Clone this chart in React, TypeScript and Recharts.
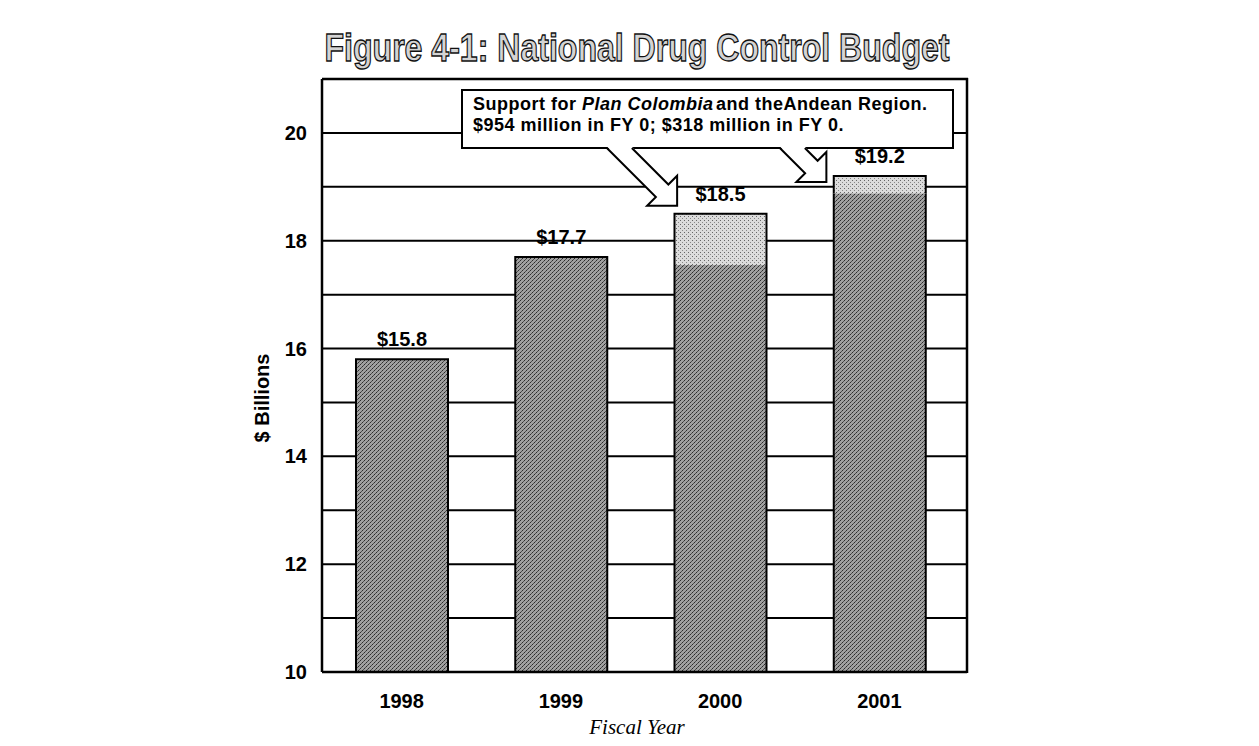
import { BarChart, Bar, XAxis, YAxis, CartesianGrid, LabelList, Customized } from 'recharts';

// fiscal years and budget ($ billions)
const years = ['1998', '1999', '2000', '2001'];
const totals = [15.8, 17.7, 18.5, 19.2];
const baseBudget = [15.8, 17.7, 17.55, 18.88];
const andeanSupport = [0, 0, 0.95, 0.32];
const yTicks = [10, 11, 12, 13, 14, 15, 16, 17, 18, 19, 20, 21];
const yLabels = [10, 12, 14, 16, 18, 20];

const data = years.map((year, i) => ({
  year,
  base: baseBudget[i],
  andean: andeanSupport[i],
  total: totals[i],
}));

const FONT = "'Liberation Sans', Arial, sans-serif";
const W = 1243;
const H = 730;
const M = { top: 71, right: 284, bottom: 16, left: 254 };
const Y_W = 60;
const X_H = 50;
const PL = M.left + Y_W;
const PR = W - M.right;
const PT = M.top;
const PB = H - M.bottom - X_H;
const X_PAD_R = 8;
const Y_MIN = 10;
const Y_MAX = 21;
const BAR = 92;

const yPx = (v: number) => PT + ((Y_MAX - v) / (Y_MAX - Y_MIN)) * (PB - PT);
const band = (PR - X_PAD_R - PL) / years.length;
const barLeft = (i: number) => PL + band * (i + 0.5) - BAR / 2;

// block arrow pointing down-right, shaft opening at the box bottom
function arrowPts(tx: number, ty: number, yb: number, s = 30, d = 6.25) {
  const mx = tx - s / 2;
  const my = ty - s / 2;
  const ax = mx + d, ay = my - d;
  const bx = mx - d, by = my + d;
  return [
    [ax - (ay - yb), yb],
    [ax, ay],
    [tx, ty - s],
    [tx, ty],
    [tx - s, ty],
    [bx, by],
    [bx - (by - yb), yb],
  ];
}

const toStr = (pts: number[][]) => pts.map((p) => p.join(',')).join(' ');

function Arrow({ pts }: { pts: number[][] }) {
  const fillPts = pts.map((p, i) => (i === 0 || i === pts.length - 1 ? [p[0], p[1] - 1.5] : p));
  return (
    <g>
      <polygon points={toStr(fillPts)} fill="#fff" stroke="none" />
      <polyline points={toStr(pts)} fill="none" stroke="#000" strokeWidth={2} strokeLinejoin="miter" />
    </g>
  );
}

function Annotations() {
  const boxL = 454, boxR = 945, boxT = 82, boxB = 140;
  const a1 = arrowPts(barLeft(2) + 3, yPx(totals[2]) - 8, boxB);
  const a2 = arrowPts(barLeft(3) - 7, yPx(totals[3]) + 6, boxB);
  const noteText = { fontFamily: FONT, fontWeight: 700, fontSize: 18, letterSpacing: 0.5, fill: '#000' };
  return (
    <g>
      <line x1={PR} y1={PT - 1} x2={PR} y2={PB + 1} stroke="#000" strokeWidth={2.5} />
      <line x1={PL} y1={PT} x2={PR + 1} y2={PT} stroke="#000" strokeWidth={2.5} />
      <text
        x={629}
        y={53}
        textAnchor="middle"
        textLength={625}
        lengthAdjust="spacingAndGlyphs"
        fontFamily="'Liberation Sans Narrow', 'Liberation Sans', Arial, sans-serif"
        fontWeight={700}
        fontSize={38}
        fill="#d4d4d4"
        stroke="#111"
        strokeWidth={1.3}
      >
        Figure 4-1: National Drug Control Budget
      </text>
      <rect x={boxL} y={boxT} width={boxR - boxL} height={boxB - boxT} fill="#fff" stroke="#000" strokeWidth={2} />
      <Arrow pts={a1} />
      <Arrow pts={a2} />
      <text x={465} y={101.5} {...noteText}>Support for</text>
      <text x={574} y={101.5} {...noteText} fontStyle="italic">Plan Colombia</text>
      <text x={708} y={101.5} {...noteText}>and theAndean Region.</text>
      <text x={465} y={122.5} {...noteText}>$954 million in FY 0; $318 million in FY 0.</text>
      <text
        x={254}
        y={390}
        transform="rotate(-90, 254, 390)"
        textAnchor="middle"
        dominantBaseline="central"
        fontFamily={FONT}
        fontWeight={700}
        fontSize={20}
        fill="#000"
      >
        $ Billions
      </text>
      <text
        x={629}
        y={726}
        textAnchor="middle"
        fontFamily="'Liberation Serif', 'Times New Roman', serif"
        fontStyle="italic"
        fontSize={21}
        fill="#000"
      >
        Fiscal Year
      </text>
    </g>
  );
}

const BaseShape = (props: any) => {
  const { x, y, width, height, payload, index } = props;
  const extra = payload ? payload.andean : andeanSupport[index];
  const d =
    `M${x},${y} L${x},${y + height} L${x + width},${y + height} L${x + width},${y}` +
    (extra === 0 ? ' Z' : '');
  return (
    <g>
      <rect x={x} y={y} width={width} height={height} fill="url(#halftone)" />
      <path d={d} fill="none" stroke="#000" strokeWidth={2} />
    </g>
  );
};

const ExtraShape = (props: any) => {
  const { x, y, width, height } = props;
  if (!height || height <= 0) return <g />;
  return (
    <g>
      <rect x={x} y={y} width={width} height={height} fill="url(#halftoneLight)" />
      <path
        d={`M${x},${y + height} L${x},${y} L${x + width},${y} L${x + width},${y + height}`}
        fill="none"
        stroke="#000"
        strokeWidth={2}
      />
    </g>
  );
};

const TotalLabel = (props: any) => {
  const { x, y, width, index } = props;
  return (
    <text
      x={Number(x) + Number(width) / 2}
      y={Number(y) - 13}
      textAnchor="middle"
      fontFamily={FONT}
      fontWeight={700}
      fontSize={20}
      fill="#000"
    >
      {'$' + totals[index]}
    </text>
  );
};

export default function App() {
  const tickStyle = { fill: '#000', fontSize: 20, fontWeight: 700, fontFamily: FONT };
  return (
    <div style={{ position: 'relative', width: W, height: H, background: '#fff' }}>
      <svg width={0} height={0} style={{ position: 'absolute' }}>
        <defs>
          <pattern id="halftone" width={4} height={4} patternUnits="userSpaceOnUse">
            <rect width={4} height={4} fill="#a0a0a0" />
            <rect x={0} y={0} width={1} height={1} fill="#2c2c2c" />
            <rect x={2} y={2} width={1} height={1} fill="#2c2c2c" />
            <rect x={1} y={3} width={1} height={1} fill="#505050" />
            <rect x={3} y={1} width={1} height={1} fill="#505050" />
          </pattern>
          <pattern id="halftoneLight" width={4} height={4} patternUnits="userSpaceOnUse">
            <rect width={4} height={4} fill="#dcdcdc" />
            <rect x={0} y={0} width={1} height={1} fill="#666" />
            <rect x={2} y={2} width={1} height={1} fill="#888" />
          </pattern>
        </defs>
      </svg>
      <BarChart width={W} height={H} data={data} margin={M} barSize={BAR} style={{ fontFamily: FONT }}>
        <CartesianGrid horizontal vertical={false} stroke="#000" strokeWidth={2} />
        <XAxis
          dataKey="year"
          height={X_H}
          padding={{ left: 0, right: X_PAD_R }}
          axisLine={{ stroke: '#000', strokeWidth: 2.5 }}
          tickLine={false}
          tickSize={0}
          tickMargin={22}
          tick={tickStyle}
        />
        <YAxis
          width={Y_W}
          domain={[Y_MIN, Y_MAX]}
          allowDataOverflow
          ticks={yTicks}
          interval={0}
          tickFormatter={(v: number) => (yLabels.includes(v) ? String(v) : '')}
          axisLine={{ stroke: '#000', strokeWidth: 2.5 }}
          tickLine={false}
          tickSize={0}
          tickMargin={15}
          tick={tickStyle}
        />
        <Bar dataKey="base" stackId="a" shape={BaseShape} isAnimationActive={false} />
        <Bar dataKey="andean" stackId="a" shape={ExtraShape} isAnimationActive={false}>
          <LabelList dataKey="total" content={TotalLabel} />
        </Bar>
        <Customized component={<Annotations />} />
      </BarChart>
    </div>
  );
}
